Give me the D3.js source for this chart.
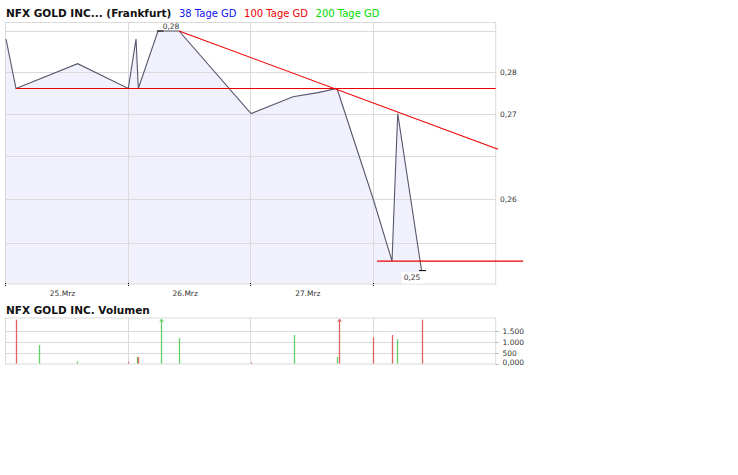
<!DOCTYPE html>
<html><head><meta charset="utf-8">
<script src="https://cdn.jsdelivr.net/npm/d3@7/dist/d3.min.js"></script>
<style>
body{margin:0;background:#fff}
svg{display:block}
text{font-family:"DejaVu Sans",Verdana,sans-serif}
</style>
</head><body>
<svg id="c" width="738" height="475"></svg>
<script>
// ---------- data ----------
const chartTitle = "NFX GOLD INC... (Frankfurt)";
const legendNames = ["38 Tage GD", "100 Tage GD", "200 Tage GD"];
const legendColors = ["#1010ee", "#ee0000", "#00dd00"];
const volumeTitle = "NFX GOLD INC. Volumen";

const priceTimes = ["2015-03-25T00:12Z","2015-03-25T02:09Z","2015-03-25T14:13Z","2015-03-26T00:07Z",
  "2015-03-26T01:38Z","2015-03-26T02:05Z","2015-03-26T05:56Z","2015-03-26T10:03Z",
  "2015-03-27T00:08Z","2015-03-27T08:21Z","2015-03-27T13:14Z","2015-03-27T16:57Z",
  "2015-03-28T00:03Z","2015-03-28T03:43Z","2015-03-28T04:30Z","2015-03-28T04:50Z","2015-03-28T09:29Z"];
const priceValues = [0.284,0.278,0.281,0.278,0.284,0.278,0.285,0.285,
  0.275,0.277,0.2775,0.278,0.265,0.258,0.270,0.275,0.257];

const volumeTimes = ["2015-03-25T02:13Z","2015-03-25T06:36Z","2015-03-25T14:09Z","2015-03-26T00:07Z",
  "2015-03-26T01:46Z","2015-03-26T02:05Z","2015-03-26T06:28Z","2015-03-26T09:59Z",
  "2015-03-27T00:11Z","2015-03-27T08:36Z","2015-03-27T17:01Z","2015-03-27T17:24Z",
  "2015-03-28T00:03Z","2015-03-28T03:46Z","2015-03-28T04:45Z","2015-03-28T09:39Z"];
const volumeValues = [2000,850,100,70,300,300,5000,1150,50,1300,300,4000,1200,1300,1100,2000];
const volumeUp = [false,true,true,false,true,false,true,true,false,true,true,false,false,false,true,false];

const dayBounds = ["2015-03-25T00:00Z","2015-03-26T00:00Z","2015-03-27T00:00Z","2015-03-28T00:00Z","2015-03-29T00:00Z"];
const dayLabelTimes = ["2015-03-25T11:15Z","2015-03-26T11:15Z","2015-03-27T11:15Z"];
const dayLabels = ["25.Mrz","26.Mrz","27.Mrz"];

const priceGrid = [0.285,0.28,0.275,0.27,0.265,0.26];
const priceLabelValues = [0.28,0.275,0.265];
const priceLabels = ["0,28","0,27","0,26"];
const priceDomain = [0.25546, 0.28611];

const volumeGrid = [500,1000,1500];
const volumeTickValues = [1500,1000,500,0];
const volumeTickLabels = ["1.500","1.000","500","0,000"];
const volumeDomain = [0, 2100];

const resistanceLine = [["2015-03-25T02:09Z",0.278],["2015-03-29T00:00Z",0.278]];
const trendLine = [["2015-03-26T10:03Z",0.285],["2015-03-29T00:27Z",0.2708]];
const supportLine = [["2015-03-28T00:47Z",0.258],["2015-03-29T05:21Z",0.258]];
const maxLabel = "0,28";
const minLabel = "0,25";

// ---------- layout ----------
const L = 5, R = 495.7;
const pTop = 22, pBot = 284;
const vTop = 317.5, vBot = 363.5;
const gridColor = "#dadada";

const svg = d3.select("#c");
const parse = s => new Date(s);

const x = d3.scaleUtc().domain([parse(dayBounds[0]), parse(dayBounds[dayBounds.length-1])]).range([L, R]);
const y = d3.scaleLog().domain(priceDomain).range([pBot, pTop]);
const yv = d3.scaleLinear().domain(volumeDomain).range([vBot, vTop]);

const price = priceTimes.map((t,i)=>({t:parse(t), v:priceValues[i]}));

// ---------- titles ----------
const title = svg.append("text").attr("x",6).attr("y",16.5)
  .attr("font-size","10.5px").attr("font-weight","bold").attr("fill","#111").text(chartTitle);
let lx = 6 + title.node().getComputedTextLength() + 7.5;
legendNames.forEach((n,i)=>{
  const t = svg.append("text").attr("x",lx).attr("y",16.5).attr("font-size","10px")
    .attr("fill",legendColors[i]).text(n);
  lx += t.node().getComputedTextLength() + 7.5;
});

// ---------- price panel ----------
svg.append("rect").attr("x",L).attr("y",pTop).attr("width",R-L).attr("height",pBot-pTop)
  .attr("fill","#fff");

const area = d3.area().x(d=>x(d.t)).y0(pBot).y1(d=>y(d.v));
svg.append("path").datum(price).attr("d",area).attr("fill","#f1f1fd");

// grid
svg.append("g").selectAll("line").data(priceGrid).join("line")
  .attr("x1",L).attr("x2",R).attr("y1",d=>Math.round(y(d))+0.5).attr("y2",d=>Math.round(y(d))+0.5)
  .attr("stroke",gridColor).attr("stroke-width",1);
svg.append("g").selectAll("line").data(dayBounds.slice(1,-1)).join("line")
  .attr("x1",d=>Math.round(x(parse(d)))+0.5).attr("x2",d=>Math.round(x(parse(d)))+0.5)
  .attr("y1",pTop).attr("y2",pBot).attr("stroke",gridColor);
// frame
svg.append("rect").attr("x",L+0.5).attr("y",pTop+0.5).attr("width",R-L-0.5).attr("height",pBot-pTop-0.5)
  .attr("fill","none").attr("stroke",gridColor);

// price line
const line = d3.line().x(d=>x(d.t)).y(d=>y(d.v));
svg.append("path").datum(price).attr("d",line).attr("fill","none")
  .attr("stroke","#57576d").attr("stroke-width",1.1);

// red lines
const seg = d3.line().x(d=>x(parse(d[0]))).y(d=>y(d[1]));
[resistanceLine, trendLine, supportLine].forEach(s=>{
  svg.append("path").datum(s).attr("d",seg).attr("fill","none")
    .attr("stroke","#ee0000").attr("stroke-width",1.1);
});

// max / min markers
const maxI = d3.maxIndex(price, d=>d.v);
const minI = d3.minIndex(price, d=>d.v);
const mx = x(price[maxI].t), my = y(price[maxI].v);
svg.append("line").attr("x1",mx-1).attr("x2",mx+5.5).attr("y1",my).attr("y2",my)
  .attr("stroke","#000").attr("stroke-width",1);
svg.append("text").attr("x",mx+13).attr("y",my-1.8).attr("text-anchor","middle")
  .attr("font-size","7.5px").attr("fill","#333").text(maxLabel);
const nx = x(price[minI].t), ny = y(price[minI].v);
const minT = svg.append("text").attr("x",nx-9.5).attr("y",ny+9.6).attr("text-anchor","middle")
  .attr("font-size","7.5px").attr("fill","#333").text(minLabel);
const bb = minT.node().getBBox();
svg.insert("rect", () => minT.node()).attr("x",bb.x-2).attr("y",ny+1.7).attr("width",bb.width+4).attr("height",pBot-ny-2)
  .attr("fill","#fff");
svg.append("line").attr("x1",nx-2.5).attr("x2",nx+4.5).attr("y1",ny+0.5).attr("y2",ny+0.5)
  .attr("stroke","#000").attr("stroke-width",1);

// x ticks
svg.append("g").selectAll("line").data(dayBounds.slice(0,-1)).join("line")
  .attr("x1",d=>Math.round(x(parse(d)))+0.5).attr("x2",d=>Math.round(x(parse(d)))+0.5)
  .attr("y1",pBot-1).attr("y2",pBot+3).attr("stroke","#000").attr("stroke-dasharray","1,1");
svg.append("g").selectAll("text").data(dayLabels).join("text")
  .attr("x",(d,i)=>x(parse(dayLabelTimes[i]))).attr("y",295.5).attr("text-anchor","middle")
  .attr("font-size","7.5px").attr("fill","#333").text(d=>d);

// y labels
svg.append("g").selectAll("text").data(priceLabels).join("text")
  .attr("x",500).attr("y",(d,i)=>y(priceLabelValues[i])+3.2)
  .attr("font-size","7.5px").attr("fill","#333").text(d=>d);

// ---------- volume panel ----------
svg.append("text").attr("x",6).attr("y",314).attr("font-size","10.5px").attr("font-weight","bold")
  .attr("fill","#111").text(volumeTitle);

svg.append("g").selectAll("line").data(volumeGrid).join("line")
  .attr("x1",L).attr("x2",R).attr("y1",d=>Math.round(yv(d))+0.5).attr("y2",d=>Math.round(yv(d))+0.5)
  .attr("stroke",gridColor);
svg.append("g").selectAll("line").data(dayBounds.slice(1,-1)).join("line")
  .attr("x1",d=>Math.round(x(parse(d)))+0.5).attr("x2",d=>Math.round(x(parse(d)))+0.5)
  .attr("y1",vTop).attr("y2",vBot).attr("stroke",gridColor);
svg.append("rect").attr("x",L+0.5).attr("y",vTop+0.5).attr("width",R-L-0.5).attr("height",vBot-vTop)
  .attr("fill","none").attr("stroke",gridColor);

// right ticks + labels
svg.append("g").selectAll("line").data(volumeTickValues).join("line")
  .attr("x1",R).attr("x2",R+3).attr("y1",d=>Math.round(yv(d))+0.5).attr("y2",d=>Math.round(yv(d))+0.5)
  .attr("stroke","#bbb");
svg.append("g").selectAll("text").data(volumeTickLabels).join("text")
  .attr("x",502.5).attr("y",(d,i)=>Math.min(yv(volumeTickValues[i])+3.6, 365.3))
  .attr("font-size","7.5px").attr("fill","#333").text(d=>d);

// bars
const vol = volumeTimes.map((t,i)=>({t:parse(t), v:volumeValues[i], up:volumeUp[i]}));
const capY = vTop + 1.5;
svg.append("g").selectAll("line").data(vol).join("line")
  .attr("x1",d=>Math.round(x(d.t))+0.5).attr("x2",d=>Math.round(x(d.t))+0.5)
  .attr("y1",vBot).attr("y2",d=>Math.max(yv(d.v), capY))
  .attr("stroke",d=>d.up?"#62d062":"#dd6262").attr("stroke-width",1.3);
svg.append("g").selectAll("path").data(vol.filter(d=>d.v>volumeDomain[1])).join("path")
  .attr("d",d=>{const cx=Math.round(x(d.t))+0.5; return `M${cx-2.5},${capY+2.5}L${cx+2.5},${capY+2.5}L${cx},${capY}Z`;})
  .attr("fill",d=>d.up?"#62d062":"#dd6262");
</script>
</body></html>
